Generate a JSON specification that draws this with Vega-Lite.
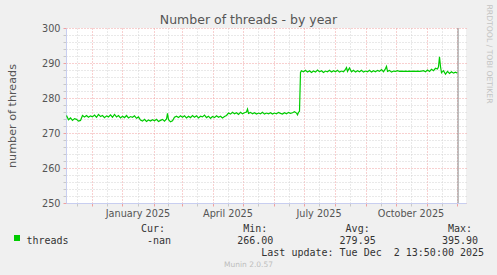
{
  "$schema": "https://vega.github.io/schema/vega-lite/v6.json",
  "width": 400,
  "height": 175,
  "autosize": {"type": "none"},
  "padding": {"left": 66, "top": 28, "right": 31, "bottom": 72},
  "background": "#F0F0F0",
  "config": {"view": {"fill": "#FFFFFF", "stroke": null}, "font": "DejaVu Sans"},
  "title": {"text": "Number of threads - by year", "font": "DejaVu Sans", "fontSize": 12.5, "fontWeight": "normal", "color": "#555555", "anchor": "middle", "frame": "group", "dx": -17.5, "dy": 38, "offset": 5, "baseline": "alphabetic"},
  "datasets": {
    "threads": [
      {"t":"2024-11-06","v":275.0},{"t":"2024-11-08","v":273.8},{"t":"2024-11-10","v":274.3},{"t":"2024-11-12","v":273.6},{"t":"2024-11-14","v":274.1},{"t":"2024-11-16","v":273.9},{"t":"2024-11-18","v":273.4},{"t":"2024-11-20","v":273.6},{"t":"2024-11-22","v":275.0},{"t":"2024-11-24","v":274.6},{"t":"2024-11-26","v":275.0},{"t":"2024-11-28","v":274.5},{"t":"2024-11-30","v":274.9},
      {"t":"2024-12-02","v":274.6},{"t":"2024-12-04","v":275.1},{"t":"2024-12-06","v":274.5},{"t":"2024-12-08","v":275.3},{"t":"2024-12-10","v":274.7},{"t":"2024-12-12","v":275.0},{"t":"2024-12-14","v":274.4},{"t":"2024-12-16","v":274.9},{"t":"2024-12-18","v":274.6},{"t":"2024-12-20","v":275.2},{"t":"2024-12-22","v":274.5},{"t":"2024-12-24","v":275.3},{"t":"2024-12-26","v":274.6},{"t":"2024-12-28","v":275.0},{"t":"2024-12-30","v":274.3},
      {"t":"2025-01-01","v":274.8},{"t":"2025-01-03","v":274.4},{"t":"2025-01-05","v":275.0},{"t":"2025-01-07","v":274.3},{"t":"2025-01-09","v":274.7},{"t":"2025-01-11","v":274.5},{"t":"2025-01-13","v":274.9},{"t":"2025-01-15","v":274.2},{"t":"2025-01-17","v":274.6},{"t":"2025-01-19","v":273.7},{"t":"2025-01-21","v":273.4},{"t":"2025-01-23","v":273.9},{"t":"2025-01-25","v":273.3},{"t":"2025-01-27","v":273.7},{"t":"2025-01-29","v":273.4},{"t":"2025-01-31","v":273.8},
      {"t":"2025-02-02","v":273.5},{"t":"2025-02-04","v":273.9},{"t":"2025-02-06","v":273.3},{"t":"2025-02-08","v":273.6},{"t":"2025-02-10","v":273.9},{"t":"2025-02-12","v":273.4},{"t":"2025-02-14","v":274.0},{"t":"2025-02-15","v":275.6},{"t":"2025-02-16","v":273.8},{"t":"2025-02-18","v":273.2},{"t":"2025-02-20","v":273.5},{"t":"2025-02-22","v":274.5},{"t":"2025-02-24","v":274.8},{"t":"2025-02-26","v":274.4},{"t":"2025-02-28","v":274.9},
      {"t":"2025-03-02","v":274.5},{"t":"2025-03-04","v":274.9},{"t":"2025-03-06","v":274.3},{"t":"2025-03-08","v":274.8},{"t":"2025-03-10","v":274.4},{"t":"2025-03-12","v":275.0},{"t":"2025-03-14","v":274.5},{"t":"2025-03-16","v":274.9},{"t":"2025-03-18","v":274.3},{"t":"2025-03-20","v":274.8},{"t":"2025-03-22","v":274.6},{"t":"2025-03-24","v":275.1},{"t":"2025-03-26","v":274.4},{"t":"2025-03-28","v":274.8},{"t":"2025-03-30","v":274.2},
      {"t":"2025-04-01","v":274.7},{"t":"2025-04-03","v":274.4},{"t":"2025-04-05","v":274.9},{"t":"2025-04-07","v":274.5},{"t":"2025-04-09","v":274.8},{"t":"2025-04-11","v":274.3},{"t":"2025-04-13","v":274.7},{"t":"2025-04-15","v":275.0},{"t":"2025-04-17","v":275.7},{"t":"2025-04-19","v":275.4},{"t":"2025-04-21","v":275.9},{"t":"2025-04-23","v":275.5},{"t":"2025-04-25","v":275.8},{"t":"2025-04-27","v":275.3},{"t":"2025-04-29","v":275.9},
      {"t":"2025-05-01","v":275.5},{"t":"2025-05-03","v":275.8},{"t":"2025-05-05","v":276.0},{"t":"2025-05-06","v":276.8},{"t":"2025-05-07","v":275.6},{"t":"2025-05-09","v":275.9},{"t":"2025-05-11","v":275.5},{"t":"2025-05-13","v":275.8},{"t":"2025-05-15","v":275.4},{"t":"2025-05-17","v":275.7},{"t":"2025-05-19","v":275.5},{"t":"2025-05-21","v":275.9},{"t":"2025-05-23","v":275.4},{"t":"2025-05-25","v":275.7},{"t":"2025-05-27","v":275.5},{"t":"2025-05-29","v":275.8},{"t":"2025-05-31","v":275.4},
      {"t":"2025-06-02","v":275.7},{"t":"2025-06-04","v":275.5},{"t":"2025-06-06","v":275.9},{"t":"2025-06-08","v":275.6},{"t":"2025-06-10","v":275.4},{"t":"2025-06-12","v":275.8},{"t":"2025-06-14","v":275.5},{"t":"2025-06-16","v":275.9},{"t":"2025-06-18","v":275.6},{"t":"2025-06-20","v":275.8},{"t":"2025-06-22","v":276.1},{"t":"2025-06-24","v":275.7},{"t":"2025-06-25","v":275.2},{"t":"2025-06-26","v":275.9},{"t":"2025-06-27","v":276.2},{"t":"2025-06-28","v":287.3},{"t":"2025-06-29","v":287.8},
      {"t":"2025-07-01","v":287.5},{"t":"2025-07-03","v":287.9},{"t":"2025-07-05","v":287.4},{"t":"2025-07-07","v":287.8},{"t":"2025-07-09","v":287.3},{"t":"2025-07-11","v":287.7},{"t":"2025-07-13","v":287.4},{"t":"2025-07-15","v":288.0},{"t":"2025-07-17","v":287.5},{"t":"2025-07-19","v":287.8},{"t":"2025-07-21","v":287.3},{"t":"2025-07-23","v":287.7},{"t":"2025-07-25","v":287.5},{"t":"2025-07-27","v":287.9},{"t":"2025-07-29","v":287.4},{"t":"2025-07-31","v":287.8},
      {"t":"2025-08-02","v":287.5},{"t":"2025-08-04","v":287.9},{"t":"2025-08-06","v":287.4},{"t":"2025-08-08","v":287.7},{"t":"2025-08-10","v":287.5},{"t":"2025-08-12","v":288.2},{"t":"2025-08-13","v":288.7},{"t":"2025-08-14","v":287.6},{"t":"2025-08-16","v":288.6},{"t":"2025-08-18","v":287.5},{"t":"2025-08-20","v":287.9},{"t":"2025-08-22","v":287.4},{"t":"2025-08-24","v":287.8},{"t":"2025-08-26","v":287.5},{"t":"2025-08-28","v":287.9},{"t":"2025-08-30","v":287.4},
      {"t":"2025-09-01","v":287.7},{"t":"2025-09-03","v":287.5},{"t":"2025-09-05","v":287.9},{"t":"2025-09-07","v":287.4},{"t":"2025-09-09","v":287.8},{"t":"2025-09-11","v":287.5},{"t":"2025-09-13","v":287.9},{"t":"2025-09-15","v":287.6},{"t":"2025-09-17","v":288.1},{"t":"2025-09-19","v":287.5},{"t":"2025-09-21","v":288.4},{"t":"2025-09-22","v":289.0},{"t":"2025-09-23","v":287.6},{"t":"2025-09-25","v":287.9},{"t":"2025-09-27","v":287.4},{"t":"2025-09-29","v":287.7},
      {"t":"2025-10-01","v":287.6},{"t":"2025-10-03","v":287.8},{"t":"2025-10-05","v":287.6},{"t":"2025-10-07","v":287.7},{"t":"2025-10-09","v":287.6},{"t":"2025-10-11","v":287.7},{"t":"2025-10-13","v":287.6},{"t":"2025-10-15","v":287.7},{"t":"2025-10-17","v":287.6},{"t":"2025-10-19","v":287.7},{"t":"2025-10-21","v":287.6},{"t":"2025-10-23","v":287.7},{"t":"2025-10-25","v":287.6},{"t":"2025-10-27","v":287.7},{"t":"2025-10-29","v":287.8},{"t":"2025-10-31","v":287.5},
      {"t":"2025-11-02","v":288.0},{"t":"2025-11-04","v":287.6},{"t":"2025-11-06","v":288.2},{"t":"2025-11-08","v":287.8},{"t":"2025-11-10","v":288.5},{"t":"2025-11-12","v":288.3},{"t":"2025-11-13","v":288.9},{"t":"2025-11-14","v":291.8},{"t":"2025-11-15","v":289.0},{"t":"2025-11-16","v":287.2},{"t":"2025-11-18","v":287.8},{"t":"2025-11-20","v":286.8},{"t":"2025-11-22","v":287.6},{"t":"2025-11-24","v":287.0},{"t":"2025-11-26","v":287.5},{"t":"2025-11-28","v":287.1},{"t":"2025-11-30","v":287.4},
      {"t":"2025-12-01","v":287.2},{"t":"2025-12-02","v":287.3}
    ],
    "lastupdate": [{"t": "2025-12-02T13:50:00Z"}]
  },
  "layer": [
    {
      "data": {"name": "threads"},
      "mark": {"type": "line", "strokeWidth": 1.2, "interpolate": "linear"},
      "encoding": {
        "x": {
          "field": "t", "type": "temporal",
          "scale": {"type": "utc", "domain": [{"year": 2024, "month": 11, "date": 5, "hours": 12, "utc": true}, {"year": 2025, "month": 12, "date": 10, "hours": 12, "utc": true}]},
          "axis": {
            "orient": "bottom",
            "values": [
              {"year": 2024, "month": 11, "date": 16, "utc": true},
              {"year": 2024, "month": 12, "date": 1, "utc": true},
              {"year": 2024, "month": 12, "date": 16, "utc": true},
              {"year": 2025, "month": 1, "date": 1, "utc": true},
              {"year": 2025, "month": 1, "date": 16, "utc": true},
              {"year": 2025, "month": 2, "date": 1, "utc": true},
              {"year": 2025, "month": 2, "date": 16, "utc": true},
              {"year": 2025, "month": 3, "date": 1, "utc": true},
              {"year": 2025, "month": 3, "date": 16, "utc": true},
              {"year": 2025, "month": 4, "date": 1, "utc": true},
              {"year": 2025, "month": 4, "date": 16, "utc": true},
              {"year": 2025, "month": 5, "date": 1, "utc": true},
              {"year": 2025, "month": 5, "date": 16, "utc": true},
              {"year": 2025, "month": 6, "date": 1, "utc": true},
              {"year": 2025, "month": 6, "date": 16, "utc": true},
              {"year": 2025, "month": 7, "date": 1, "utc": true},
              {"year": 2025, "month": 7, "date": 16, "utc": true},
              {"year": 2025, "month": 8, "date": 1, "utc": true},
              {"year": 2025, "month": 8, "date": 16, "utc": true},
              {"year": 2025, "month": 9, "date": 1, "utc": true},
              {"year": 2025, "month": 9, "date": 16, "utc": true},
              {"year": 2025, "month": 10, "date": 1, "utc": true},
              {"year": 2025, "month": 10, "date": 16, "utc": true},
              {"year": 2025, "month": 11, "date": 1, "utc": true},
              {"year": 2025, "month": 11, "date": 16, "utc": true},
              {"year": 2025, "month": 12, "date": 1, "utc": true}
            ],
            "grid": true,
            "gridDash": [1, 2],
            "gridColor": {"condition": {"test": "utcdate(datum.value) === 1", "value": "#F0A0A0"}, "value": "#D2D2D2"},
            "tickColor": {"condition": {"test": "utcdate(datum.value) === 1", "value": "#F0A0A0"}, "value": "#C8C8C8"},
            "tickSize": 3,
            "domainColor": "#C8CEF0",
            "labelExpr": "utcmonth(datum.value) % 3 === 0 && utcdate(datum.value) === 16 ? utcFormat(datum.value, '%B %Y') : ''",
            "labelOverlap": false,
            "labelFlush": false,
            "labelBound": false,
            "labelFont": "DejaVu Sans",
            "labelFontSize": 9.7,
            "labelColor": "#555555",
            "labelPadding": 2,
            "title": [
              "\u200b\u00a0\u00a0\u00a0\u00a0\u00a0\u00a0\u00a0\u00a0\u00a0\u00a0\u00a0\u00a0\u00a0\u00a0\u00a0\u00a0\u00a0\u00a0\u00a0Cur:\u00a0\u00a0\u00a0\u00a0\u00a0\u00a0\u00a0\u00a0\u00a0\u00a0\u00a0\u00a0\u00a0Min:\u00a0\u00a0\u00a0\u00a0\u00a0\u00a0\u00a0\u00a0\u00a0\u00a0\u00a0\u00a0\u00a0Avg:\u00a0\u00a0\u00a0\u00a0\u00a0\u00a0\u00a0\u00a0\u00a0\u00a0\u00a0\u00a0\u00a0Max:",
              "\u200bthreads\u00a0\u00a0\u00a0\u00a0\u00a0\u00a0\u00a0\u00a0\u00a0\u00a0\u00a0\u00a0\u00a0-nan\u00a0\u00a0\u00a0\u00a0\u00a0\u00a0\u00a0\u00a0\u00a0\u00a0\u00a0266.00\u00a0\u00a0\u00a0\u00a0\u00a0\u00a0\u00a0\u00a0\u00a0\u00a0\u00a0279.95\u00a0\u00a0\u00a0\u00a0\u00a0\u00a0\u00a0\u00a0\u00a0\u00a0\u00a0395.90",
              "\u200b\u00a0\u00a0\u00a0\u00a0\u00a0\u00a0\u00a0\u00a0\u00a0\u00a0\u00a0\u00a0\u00a0\u00a0\u00a0\u00a0\u00a0\u00a0\u00a0\u00a0\u00a0\u00a0\u00a0\u00a0\u00a0\u00a0\u00a0\u00a0\u00a0\u00a0\u00a0\u00a0\u00a0\u00a0\u00a0\u00a0\u00a0\u00a0\u00a0Last\u00a0update:\u00a0Tue\u00a0Dec\u00a0\u00a02\u00a013:50:00\u00a02025"
            ],
            "titleFont": "DejaVu Sans Mono",
            "titleFontSize": 10,
            "titleFontWeight": "normal",
            "titleColor": "#333333",
            "titleAlign": "left",
            "titleAnchor": "start",
            "titleBaseline": "alphabetic",
            "titleLineHeight": 12,
            "titleX": -40,
            "titleY": 28
          }
        },
        "y": {
          "field": "v", "type": "quantitative",
          "scale": {"domain": [250, 300], "nice": false, "zero": false},
          "axis": {
            "orient": "left",
            "values": [250, 252, 254, 256, 258, 260, 262, 264, 266, 268, 270, 272, 274, 276, 278, 280, 282, 284, 286, 288, 290, 292, 294, 296, 298, 300],
            "grid": true,
            "gridDash": [1, 2],
            "gridColor": {"condition": {"test": "datum.value % 10 === 0", "value": "#F0A0A0"}, "value": "#D2D2D2"},
            "tickColor": {"condition": {"test": "datum.value % 10 === 0", "value": "#F0A0A0"}, "value": "#C8C8C8"},
            "tickSize": 3,
            "domainColor": "#C8CEF0",
            "labelExpr": "datum.value % 10 === 0 ? datum.label : ''",
            "labelFont": "DejaVu Sans",
            "labelFontSize": 9.7,
            "labelColor": "#555555",
            "labelPadding": 3,
            "title": "number of threads",
            "titleFont": "DejaVu Sans",
            "titleFontSize": 11.2,
            "titleFontWeight": "normal",
            "titleColor": "#555555",
            "titleAngle": -90,
            "titleAlign": "center",
            "titleBaseline": "alphabetic",
            "titleX": -51,
            "titleY": 87.5
          }
        },
        "color": {
          "datum": "threads", "type": "nominal",
          "scale": {"range": ["#00CC00"]},
          "legend": {
            "orient": "none", "legendX": -52, "legendY": 207, "title": null,
            "symbolType": "square", "symbolSize": 36, "symbolFillColor": "#00CC00", "symbolStrokeWidth": 0, "symbolOpacity": 1,
            "labelExpr": "''", "labelFontSize": 1, "labelOffset": 0, "padding": 0
          }
        }
      }
    },
    {
      "data": {"name": "lastupdate"},
      "mark": {"type": "rule", "color": "#8A8A8A", "strokeWidth": 1},
      "encoding": {
        "x": {
          "field": "t", "type": "temporal",
          "scale": {"type": "utc", "domain": [{"year": 2024, "month": 11, "date": 5, "hours": 12, "utc": true}, {"year": 2025, "month": 12, "date": 10, "hours": 12, "utc": true}]},
          "axis": {
            "orient": "bottom", "labels": false, "ticks": false, "domain": false, "grid": false,
            "title": "Munin 2.0.57", "titleFont": "DejaVu Sans", "titleFontSize": 7.5, "titleFontWeight": "normal", "titleColor": "#BDBDBD",
            "titleAlign": "center", "titleBaseline": "alphabetic", "titleX": 182, "titleY": 63
          }
        },
        "y": {
          "datum": 250, "type": "quantitative",
          "scale": {"domain": [250, 300], "nice": false, "zero": false},
          "axis": {
            "orient": "right", "labels": false, "ticks": false, "domain": false, "grid": false,
            "title": "RRDTOOL / TOBI OETIKER", "titleFont": "DejaVu Sans", "titleFontSize": 7.7, "titleFontWeight": "normal", "titleColor": "#C4C4C4",
            "titleAngle": 90, "titleAlign": "center", "titleBaseline": "middle", "titleX": 22, "titleY": 25.5
          }
        },
        "y2": {"datum": 300}
      }
    }
  ],
  "resolve": {"axis": {"x": "independent", "y": "independent"}}
}
